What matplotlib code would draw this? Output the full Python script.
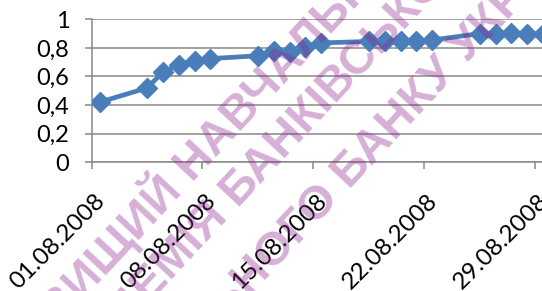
# Line chart: daily values, August 2008 (diamond markers, Excel style)
import pandas as pd
import matplotlib
matplotlib.use("Agg")
import matplotlib.pyplot as plt
import matplotlib.dates as mdates
from matplotlib.ticker import FuncFormatter
from matplotlib.transforms import ScaledTranslation

# Data
dates = ["01.08.2008", "04.08.2008", "05.08.2008", "06.08.2008", "07.08.2008",
         "08.08.2008", "11.08.2008", "12.08.2008", "13.08.2008", "14.08.2008",
         "15.08.2008", "18.08.2008", "19.08.2008", "20.08.2008", "21.08.2008",
         "22.08.2008", "25.08.2008", "26.08.2008", "27.08.2008", "28.08.2008",
         "29.08.2008"]
values = [0.42, 0.52, 0.63, 0.68, 0.71,
          0.725, 0.745, 0.78, 0.77, 0.805,
          0.835, 0.845, 0.845, 0.85, 0.845,
          0.855, 0.90, 0.90, 0.905, 0.90,
          0.90]
tick_dates = ["01.08.2008", "08.08.2008", "15.08.2008", "22.08.2008", "29.08.2008"]
y_ticks = [0, 0.2, 0.4, 0.6, 0.8, 1.0]

watermark = ["ДЕРЖАВНИЙ ВИЩИЙ НАВЧАЛЬНИЙ ЗАКЛАД",
             "УКРАЇНСЬКА АКАДЕМІЯ БАНКІВСЬКОЇ СПРАВИ",
             "НАЦІОНАЛЬНОГО БАНКУ УКРАЇНИ"]

x = pd.to_datetime(dates, format="%d.%m.%Y") + pd.Timedelta(hours=12)  # middle of day slot
ticks = pd.to_datetime(tick_dates, format="%d.%m.%Y")

plt.rcParams['font.family'] = ['Lato', 'DejaVu Sans']
grey = '#898989'
blue = '#4A7EBB'

fig = plt.figure(figsize=(5.42, 2.91), dpi=100)
ax = fig.add_axes([0.169, 0.4423, 0.831, 0.4914])

ax.plot(x, values, color=blue, lw=3.4, marker='D', ms=10,
        mec=blue, mfc=blue, zorder=3)

ax.set_ylim(0, 1)
ax.set_yticks(y_ticks)
ax.yaxis.set_major_formatter(FuncFormatter(lambda v, p: f"{v:g}".replace('.', ',')))
ax.set_xlim(ticks[0], ticks[0] + pd.Timedelta(days=28.43))
ax.set_xticks(ticks)
ax.xaxis.set_major_formatter(mdates.DateFormatter('%d.%m.%Y'))

ax.grid(axis='y', color=grey, lw=1.1)
ax.set_axisbelow(True)
for s in ['top', 'right']:
    ax.spines[s].set_visible(False)
for s in ['left', 'bottom']:
    ax.spines[s].set_color(grey)
    ax.spines[s].set_linewidth(1.1)

ax.tick_params(axis='y', direction='out', length=5, width=1.1, color=grey,
               labelsize=17, pad=11)
ax.tick_params(axis='x', direction='out', length=5, width=1.1, color=grey,
               labelsize=17.5, pad=20.5)
shift = ScaledTranslation(10 / 100, 0, fig.dpi_scale_trans)
for lab in ax.get_xticklabels():
    lab.set_rotation(45)
    lab.set_ha('right')
    lab.set_va('center')
    lab.set_rotation_mode('anchor')
    lab.set_transform(lab.get_transform() + shift)

# diagonal watermark over the chart
wm_pos = [(190, 162), (213, 214), (318, 202)]
for txt, (px, py) in zip(watermark, wm_pos):
    fig.text(px / 542, 1 - py / 291, txt, rotation=47, rotation_mode='anchor',
             ha='center', va='center', fontsize=34, fontweight='bold',
             family=['Liberation Sans', 'DejaVu Sans'],
             color='#8D228C', alpha=0.36, zorder=5)

fig.savefig("out.png", dpi=100)
